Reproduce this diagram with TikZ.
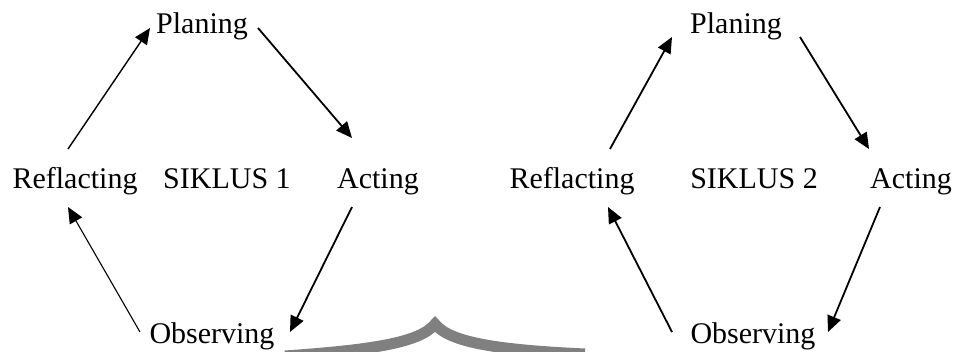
\documentclass[tikz,border=0pt]{standalone}
\usepackage{fontspec}
\setmainfont{Liberation Serif}
\usetikzlibrary{arrows.meta}
\begin{document}
\begin{tikzpicture}[x=1pt,y=-1pt,
  lbl/.style={anchor=base,inner sep=0pt,font=\fontsize{30}{36}\selectfont},
  arr/.style={line width=1.8pt,-{Triangle[length=16pt,width=14pt]}},
  thinarr/.style={arr,line width=1.1pt},
  midarr/.style={arr,line width=1.4pt},
  wm/.style={line width=11pt,color=black!50,line cap=butt,line join=miter}]
\useasboundingbox (0,0) rectangle (958,351);
% watermark
\draw[wm] (285,356) .. controls (370,350) and (420,343) .. (435,324) .. controls (450,343) and (500,350) .. (585,354);
% cycle 1
\node[lbl] (P1) at (202,33) {Planing};
\node[lbl] (R1) at (75,188) {Reflacting};
\node[lbl] (S1) at (227,188) {SIKLUS 1};
\node[lbl] (A1) at (378,188) {Acting};
\node[lbl] (O1) at (212,343) {Observing};
\draw[midarr] ([shift={(-7,-39)}]R1.base) -- ([shift={(-52,-5)}]P1.base);
\draw[arr] ([shift={(56,-5)}]P1.base) -- ([shift={(-26,-50)}]A1.base);
\draw[arr] ([shift={(-26,19)}]A1.base) -- ([shift={(78,-11)}]O1.base);
\draw[thinarr] ([shift={(-72,-11)}]O1.base) -- ([shift={(-7,19)}]R1.base);
% cycle 2
\node[lbl] (P2) at (736,33) {Planing};
\node[lbl] (R2) at (572,188) {Reflacting};
\node[lbl] (S2) at (754,188) {SIKLUS 2};
\node[lbl] (A2) at (911,188) {Acting};
\node[lbl] (O2) at (753,343) {Observing};
\draw[arr] ([shift={(38,-39)}]R2.base) -- ([shift={(-64,4)}]P2.base);
\draw[arr] ([shift={(64,4)}]P2.base) -- ([shift={(-42,-39)}]A2.base);
\draw[arr] ([shift={(-31,19)}]A2.base) -- ([shift={(75,-11)}]O2.base);
\draw[arr] ([shift={(-81,-11)}]O2.base) -- ([shift={(36,19)}]R2.base);
\end{tikzpicture}
\end{document}
